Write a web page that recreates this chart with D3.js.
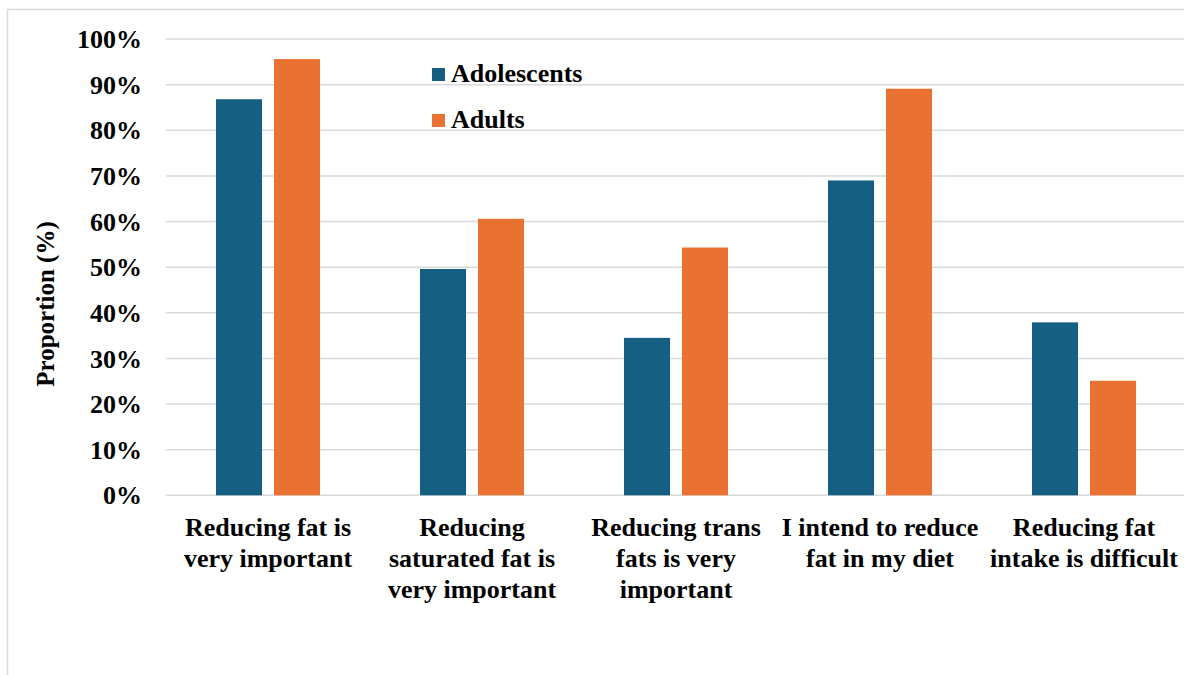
<!DOCTYPE html>
<meta charset="utf-8">
<style>
body { margin: 0; background: #fff; }
text {
  font-family: "Liberation Serif", "Times New Roman", serif;
  font-weight: bold;
  fill: #000;
}
</style>
<svg width="1184" height="675"></svg>
<script src="https://d3js.org/d3.v7.min.js"></script>
<script>

// data
var categories = [
  ["Reducing fat is", "very important"],
  ["Reducing", "saturated fat is", "very important"],
  ["Reducing trans", "fats is very", "important"],
  ["I intend to reduce", "fat in my diet"],
  ["Reducing fat", "intake is difficult"]
];
var series = ["Adolescents", "Adults"];
var adolescents = [0.868, 0.496, 0.345, 0.690, 0.379];
var adults = [0.956, 0.606, 0.543, 0.891, 0.251];
var yTicks = [0, 0.1, 0.2, 0.3, 0.4, 0.5, 0.6, 0.7, 0.8, 0.9, 1.0];
var colors = ["#156082", "#E97132"];

var svg = d3.select("svg");

// chart frame
svg.append("rect")
    .attr("x", 7.5).attr("y", 9.5)
    .attr("width", 1200).attr("height", 700)
    .attr("fill", "none")
    .attr("stroke", "#d9d9d9")
    .attr("stroke-width", 1.5);

var keys = categories.map(function(d, i) { return i; });

var x0 = d3.scaleBand()
    .domain(keys)
    .range([166, 1186]);

var x1 = d3.scaleBand()
    .domain(series)
    .range([0, x0.bandwidth()])
    .paddingInner(0.207)
    .paddingOuter(0.862);

var y = d3.scaleLinear()
    .domain([0, 1])
    .range([495.3, 39]);

// gridlines
svg.append("g")
    .selectAll("line")
    .data(yTicks)
    .enter().append("line")
      .attr("x1", 166)
      .attr("x2", 1186)
      .attr("y1", function(d) { return y(d); })
      .attr("y2", function(d) { return y(d); })
      .attr("stroke", "#d9d9d9")
      .attr("stroke-width", 1.5);

// y tick labels
svg.append("g")
    .selectAll("text")
    .data(yTicks)
    .enter().append("text")
      .attr("x", 142)
      .attr("y", function(d) { return y(d); })
      .attr("dy", "0.35em")
      .attr("text-anchor", "end")
      .style("font-size", "26px")
      .text(d3.format(".0%"));

// axis title
svg.append("text")
    .attr("transform", "translate(54,304) rotate(-90)")
    .attr("text-anchor", "middle")
    .style("font-size", "25px")
    .text("Proportion (%)");

// bars
var rows = keys.map(function(i) {
  return { key: i, values: [adolescents[i], adults[i]] };
});

var group = svg.append("g")
  .selectAll("g")
  .data(rows)
  .enter().append("g")
    .attr("transform", function(d) { return "translate(" + x0(d.key) + ",0)"; });

group.selectAll("rect")
    .data(function(d) { return d.values.map(function(v, j) { return { s: series[j], v: v, j: j }; }); })
    .enter().append("rect")
      .attr("x", function(d) { return x1(d.s); })
      .attr("y", function(d) { return y(d.v); })
      .attr("width", x1.bandwidth())
      .attr("height", function(d) { return y(0) - y(d.v); })
      .attr("fill", function(d) { return colors[d.j]; });

// category labels
var labels = svg.append("g")
  .selectAll("text")
  .data(keys)
  .enter().append("text")
    .attr("text-anchor", "middle")
    .style("font-size", "26px")
    .attr("transform", function(d) { return "translate(" + (x0(d) + x0.bandwidth() / 2) + ",536)"; });

labels.selectAll("tspan")
    .data(function(d) { return categories[d]; })
    .enter().append("tspan")
      .attr("x", 0)
      .attr("y", function(d, i) { return i * 31; })
      .text(function(d) { return d; });

// legend
var legend = svg.append("g")
  .selectAll("g")
  .data(series)
  .enter().append("g")
    .attr("transform", function(d, i) { return "translate(432," + (68 + i * 46) + ")"; });

legend.append("rect")
    .attr("width", 13)
    .attr("height", 13)
    .attr("fill", function(d, i) { return colors[i]; });

legend.append("text")
    .attr("x", 19)
    .attr("y", 14)
    .style("font-size", "26px")
    .text(function(d) { return d; });

</script>
